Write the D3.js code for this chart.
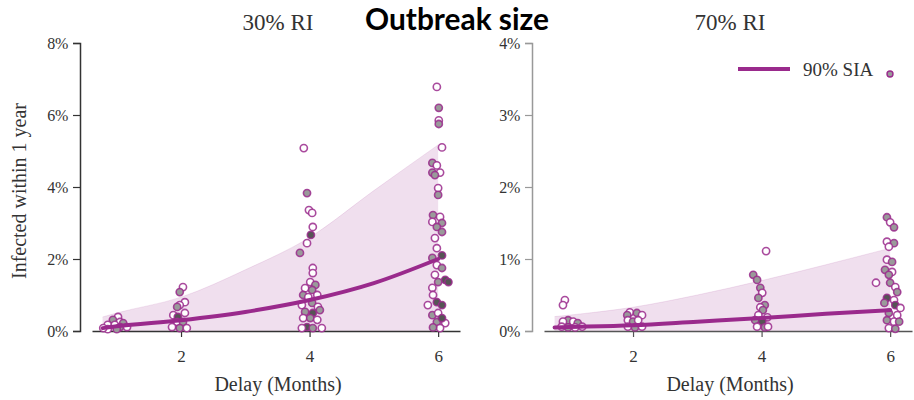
<!DOCTYPE html>
<html>
<head>
<meta charset="utf-8">
<script src="https://cdn.jsdelivr.net/npm/d3@7"></script>
<style>
  body { margin: 0; background: #fff; }
  svg { display: block; }
</style>
</head>
<body>
<script>
// ---- data ----
const xTicks = [2, 4, 6];
const yTicksLeft = [0, 2, 4, 6, 8];
const yTicksRight = [0, 1, 2, 3, 4];
const panelTitles = ["30% RI", "70% RI"];

// fitted curve + upper bound of the shaded band (percent)
const fitDelay = [0.78, 1, 2, 3, 4, 5, 6];
const fitLeft  = [0.08, 0.13, 0.3, 0.53, 0.86, 1.33, 2.0];
const bandLeft = [0.39, 0.5, 0.94, 1.7, 2.6, 3.9, 5.17];
const fitRight  = [0.05, 0.055, 0.08, 0.13, 0.18, 0.24, 0.29];
const bandRight = [0.2, 0.22, 0.33, 0.5, 0.7, 0.92, 1.15];

// simulated outbreaks: [delay (jittered), infected %, fill kind 0=open 1=grey 2=dark]
const pointsLeft = [
  [1.02,0.39,0],[0.94,0.31,1],[1.05,0.25,0],[1.1,0.22,1],[0.86,0.17,0],[0.97,0.17,0],
  [1.05,0.11,1],[1.16,0.11,0],[0.86,0.05,0],[1.0,0.05,1],[0.79,0.08,0],
  [2.03,1.22,0],[1.98,1.08,1],[2.06,0.8,0],[1.98,0.72,0],[1.94,0.67,1],[1.88,0.44,0],
  [1.95,0.39,2],[2.06,0.5,0],[1.94,0.25,0],[2.03,0.25,1],[1.86,0.11,0],[1.98,0.08,1],[2.09,0.08,0],
  [3.91,5.08,0],[3.96,3.83,1],[3.99,3.36,0],[4.04,3.28,0],[4.05,2.89,0],[4.02,2.67,2],
  [3.96,2.44,0],[3.85,2.17,1],[4.05,1.75,0],[4.05,1.61,0],[4.01,1.36,0],[4.09,1.28,1],
  [3.93,1.19,0],[4.04,1.14,1],[3.9,1.0,1],[3.98,0.94,0],[4.12,1.0,0],[3.88,0.72,0],
  [4.04,0.78,1],[4.13,0.67,0],[3.93,0.53,1],[4.05,0.5,2],[4.16,0.58,1],[3.9,0.36,0],
  [4.01,0.36,1],[4.12,0.31,0],[3.96,0.11,2],[4.05,0.08,1],[4.19,0.08,0],[3.88,0.08,0],
  [5.98,6.78,0],[6.01,6.2,1],[6.01,5.85,0],[6.01,5.75,1],[6.06,5.1,0],[5.91,4.67,1],
  [5.98,4.6,0],[5.91,4.4,1],[6.03,4.4,0],[5.95,4.33,1],[6.0,3.97,0],[6.0,3.78,1],
  [5.92,3.22,1],[6.03,3.17,0],[5.91,3.03,0],[6.06,3.0,1],[5.98,2.89,1],[5.95,2.58,0],
  [6.06,2.75,1],[5.98,2.3,0],[6.06,2.1,2],[5.91,2.03,1],[5.98,1.83,0],[6.06,1.75,1],
  [5.95,1.56,0],[6.11,1.42,2],[6.0,1.36,1],[5.91,1.2,0],[5.92,1.0,0],[5.98,0.8,2],
  [6.06,0.72,2],[5.84,0.72,0],[5.91,0.44,1],[6.0,0.5,0],[6.11,0.22,0],[5.98,0.25,1],
  [6.06,0.36,2],[6.16,1.36,2],[6.03,0.08,0],[5.92,0.1,1]
];
const pointsRight = [
  [0.94,0.43,0],[0.91,0.36,0],[0.99,0.15,1],[0.91,0.13,0],[1.07,0.13,0],[1.14,0.11,1],
  [0.89,0.06,0],[0.99,0.05,1],[1.1,0.05,0],[1.21,0.06,0],
  [1.95,0.26,0],[1.91,0.22,1],[2.06,0.25,1],[2.14,0.22,0],[1.92,0.15,0],[2.0,0.13,1],
  [2.08,0.15,0],[1.92,0.06,0],[2.03,0.05,1],[2.14,0.06,0],
  [4.07,1.11,0],[3.87,0.78,1],[3.93,0.71,1],[3.98,0.6,1],[4.01,0.53,0],[3.95,0.46,1],
  [4.05,0.36,1],[3.98,0.33,0],[4.02,0.29,1],[3.95,0.22,0],[4.09,0.19,0],[3.9,0.15,1],
  [4.01,0.13,2],[3.93,0.06,0],[4.05,0.05,1],[4.1,0.06,0],
  [5.95,1.58,1],[6.0,1.51,0],[6.06,1.44,1],[5.95,1.24,0],[6.06,1.22,1],[5.98,1.17,0],
  [5.95,0.99,0],[6.03,0.96,1],[5.92,0.85,1],[6.03,0.82,0],[5.98,0.78,1],[6.0,0.67,1],
  [6.08,0.61,0],[6.11,0.54,1],[5.95,0.46,2],[6.06,0.43,0],[5.91,0.39,1],[6.08,0.36,2],
  [6.16,0.32,0],[5.98,0.25,1],[6.11,0.22,0],[5.95,0.15,1],[6.06,0.13,0],[6.14,0.13,1],
  [5.98,0.04,0],[6.08,0.03,1],[5.78,0.67,0]
];

const legendLabel = "90% SIA";

// ---- drawing ----
const width = 914, height = 400;
const purple = "#9a2a8c";
const fills = ["#ffffff", "#9a9a9a", "#555555"];
const serif = "'Liberation Serif', 'DejaVu Serif', serif";

const svg = d3.select("body").append("svg")
    .attr("width", width)
    .attr("height", height)
    .attr("viewBox", [0, 0, width, height]);

const panels = [
  {title: panelTitles[0], x0: 92, x1: 460, spine: 80, yMax: 8, yTicks: yTicksLeft,
   fit: fitLeft, band: bandLeft, pts: pointsLeft, spineColor: "#333", axisColor: "#333"},
  {title: panelTitles[1], x0: 544, x1: 912, spine: 532, yMax: 4, yTicks: yTicksRight,
   fit: fitRight, band: bandRight, pts: pointsRight, spineColor: "#999", axisColor: "#555"}
];

const plotTop = 43, plotBottom = 331;

panels.forEach((p, pi) => {
  const x = d3.scaleLinear().domain([0.615, 6.34]).range([p.x0, p.x1]);
  const y = d3.scaleLinear().domain([0, p.yMax]).range([plotBottom, plotTop]);
  const g = svg.append("g");

  // shaded band
  const bandData = fitDelay.map((d, i) => ({d: d, hi: p.band[i]}));
  g.append("path")
    .datum(bandData)
    .attr("fill", purple)
    .attr("fill-opacity", 0.15)
    .attr("d", d3.area().x(d => x(d.d)).y0(y(0)).y1(d => y(d.hi)).curve(d3.curveMonotoneX));
  g.append("path")
    .datum(bandData)
    .attr("fill", "none")
    .attr("stroke", purple)
    .attr("stroke-opacity", 0.12)
    .attr("stroke-width", 1)
    .attr("d", d3.line().x(d => x(d.d)).y(d => y(d.hi)).curve(d3.curveMonotoneX));

  // y spine + ticks
  const ay = g.append("g")
    .attr("transform", `translate(${p.spine},0)`)
    .call(d3.axisLeft(y).tickValues(p.yTicks).tickSize(7).tickSizeOuter(7).tickFormat(d => d + "%"));
  ay.select(".domain").attr("stroke", p.spineColor).attr("stroke-width", 1.5);
  ay.selectAll(".tick line").attr("stroke", p.spineColor).attr("stroke-width", 1.2);
  ay.selectAll(".tick text").attr("font-family", serif).attr("font-size", 16)
    .attr("fill", "#333").attr("x", -12).attr("letter-spacing", -0.3);

  // bottom axis
  const ax = g.append("g")
    .attr("transform", `translate(0,${plotBottom})`)
    .call(d3.axisBottom(x).tickValues(xTicks).tickSize(6).tickSizeOuter(0).tickFormat(d3.format("d")));
  ax.select(".domain").attr("stroke", p.axisColor).attr("stroke-width", 1.5);
  ax.selectAll(".tick line").attr("stroke", p.axisColor).attr("stroke-width", 1.2);
  ax.selectAll(".tick text").attr("font-family", serif).attr("font-size", 17)
    .attr("fill", "#333").attr("dy", 0).attr("y", 31);

  // points
  g.append("g")
    .selectAll("circle")
    .data(p.pts)
    .enter()
    .append("circle")
    .attr("cx", d => x(d[0]))
    .attr("cy", d => y(d[1]))
    .attr("r", 3.6)
    .attr("fill", d => fills[d[2]])
    .attr("stroke", purple)
    .attr("stroke-opacity", 0.85)
    .attr("stroke-width", 1.6);

  // fitted line
  g.append("path")
    .datum(fitDelay.map((d, i) => ({d: d, v: p.fit[i]})))
    .attr("fill", "none")
    .attr("stroke", purple)
    .attr("stroke-width", 4)
    .attr("stroke-linecap", "round")
    .attr("d", d3.line().x(d => x(d.d)).y(d => y(d.v)).curve(d3.curveMonotoneX));

  // panel title
  g.append("text")
    .attr("x", (p.x0 + p.x1) / 2 + 2)
    .attr("y", 30)
    .attr("text-anchor", "middle")
    .attr("font-family", serif)
    .attr("font-size", 23)
    .attr("fill", "#333")
    .text(p.title);

  // x label
  g.append("text")
    .attr("x", (p.x0 + p.x1) / 2 + 2)
    .attr("y", 391)
    .attr("text-anchor", "middle")
    .attr("font-family", serif)
    .attr("font-size", 20)
    .attr("fill", "#333")
    .text("Delay (Months)");
});

// y label
svg.append("text")
  .attr("transform", "translate(26,191) rotate(-90)")
  .attr("text-anchor", "middle")
  .attr("font-family", serif)
  .attr("font-size", 20)
  .attr("fill", "#333")
  .text("Infected within 1 year");

// legend
const lg = svg.append("g");
lg.append("line")
  .attr("x1", 738).attr("x2", 790).attr("y1", 69).attr("y2", 69)
  .attr("stroke", purple).attr("stroke-width", 4);
lg.append("text")
  .attr("x", 803).attr("y", 76)
  .attr("font-family", serif).attr("font-size", 19).attr("fill", "#333")
  .text(legendLabel);
lg.append("circle")
  .attr("cx", 890).attr("cy", 74).attr("r", 3)
  .attr("fill", "#9a9a9a").attr("stroke", purple).attr("stroke-width", 1.4);

// overall title: kept inside the frame and above the right panel's top tick label
const title = svg.append("text")
  .attr("x", 457)
  .attr("y", 20)
  .attr("text-anchor", "middle")
  .attr("font-family", "Lato, 'Open Sans', sans-serif")
  .attr("font-weight", 700)
  .attr("font-size", 24)
  .attr("fill", "#000")
  .text("Outbreak size");
const w = title.node().getComputedTextLength();
title.attr("font-size", 24 * 184 / w);
const bb = title.node().getBBox();
title.attr("y", 20 + (0.5 - bb.y));
</script>
</body>
</html>
